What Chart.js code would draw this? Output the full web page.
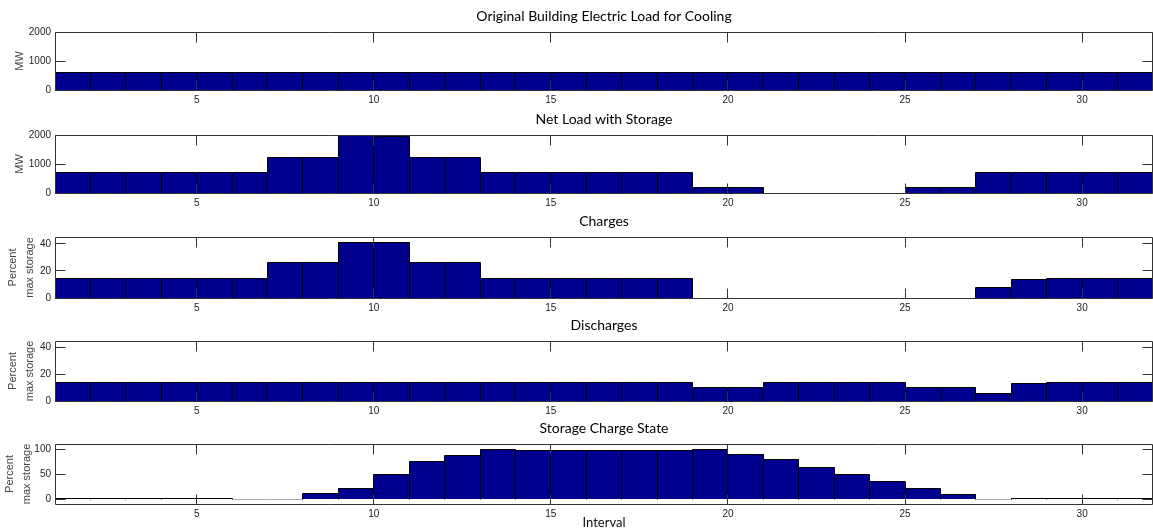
<!DOCTYPE html>
<html>
<head>
<meta charset="utf-8">
<script src="https://cdn.jsdelivr.net/npm/chart.js@4.4.0/dist/chart.umd.min.js"></script>
<style>
  html, body { margin: 0; padding: 0; background: #fff; }
  #wrap { position: relative; width: 1153px; height: 531px; overflow: hidden; }
  #wrap canvas { position: absolute; left: 0; }
</style>
</head>
<body>
<div id="wrap"></div>
<script>
// interval index of each bar (bar k spans k..k+1)
const intervals = [1, 2, 3, 4, 5, 6, 7, 8, 9, 10, 11, 12, 13, 14, 15, 16,
  17, 18, 19, 20, 21, 22, 23, 24, 25, 26, 27, 28, 29, 30, 31];

const originalLoad = [610, 610, 610, 610, 610, 610, 610, 610, 610, 610, 610,
  610, 610, 610, 610, 610, 610, 610, 610, 610, 610, 610, 610, 610, 610, 610,
  610, 610, 610, 610, 610];
const netLoad = [700, 700, 700, 700, 700, 700, 1220, 1220, 2000, 1960, 1220,
  1220, 700, 700, 700, 700, 700, 700, 190, 190, 0, 0, 0, 0, 190, 190, 700,
  700, 700, 700, 700];
const charges = [14.4, 14.4, 14.4, 14.4, 14.4, 14.4, 25.9, 25.9, 41.3, 41.3,
  25.9, 25.9, 14.4, 14.4, 14.4, 14.4, 14.4, 14.4, 0, 0, 0, 0, 0, 0, 0, 0,
  7.5, 13.6, 14.3, 14.3, 14.3];
const discharges = [13.7, 13.7, 13.7, 13.7, 13.7, 13.7, 13.7, 13.7, 13.7, 13.7,
  13.7, 13.7, 13.7, 13.7, 13.7, 13.7, 13.7, 13.7, 9.8, 9.8, 13.7, 13.7, 13.7,
  13.7, 9.8, 9.8, 6, 13.2, 13.8, 13.8, 13.8];
const chargeState = [2, 2, 2, 2, 2, 0, 0, 12, 22, 49, 75, 87, 99, 97, 97, 97,
  97, 97, 99, 89, 79, 63, 49, 35, 21, 10, 0, 2, 2, 2, 2];

const xTicks = [5, 10, 15, 20, 25, 30];
const loadTicks = [0, 1000, 2000];
const pctTicks = [0, 20, 40];
const stateTicks = [0, 50, 100];

const tickFont = { family: '"Liberation Sans", Arial, sans-serif', size: 10 };
const labelFont = { family: '"Liberation Sans", Arial, sans-serif', size: 11, lineHeight: 1.5 };
const titleFont = { family: 'Lato, "Open Sans", sans-serif', size: 14, weight: 'normal', lineHeight: 1 };
const boxColor = '#333';

const panels = [
  { title: 'Original Building Electric Load for Cooling', values: originalLoad,
    min: 0, max: 2000, yTicks: loadTicks, yTitle: ['MW'], yPad: 12, top: 32, h: 58, xh: 16 },
  { title: 'Net Load with Storage', values: netLoad,
    min: 0, max: 2000, yTicks: loadTicks, yTitle: ['MW'], yPad: 12, top: 135, h: 58, xh: 16 },
  { title: 'Charges', values: charges,
    min: 0, max: 45, yTicks: pctTicks, yTitle: ['Percent', 'max storage'], yPad: 5, top: 237, h: 61, xh: 16 },
  { title: 'Discharges', values: discharges,
    min: 0, max: 45, yTicks: pctTicks, yTitle: ['Percent', 'max storage'], yPad: 5, top: 341, h: 60, xh: 16 },
  { title: 'Storage Charge State', values: chargeState,
    min: -10, max: 110, yTicks: stateTicks, yTitle: ['Percent', 'max storage'], yPad: 2, top: 444, h: 60, xh: 27,
    xTitle: 'Interval' }
];

const TITLE_H = 27;
const px = v => Math.floor(v) + 0.5;

// crisp black outlines around the bars, one line per shared edge
const barEdges = {
  id: 'barEdges',
  afterDatasetsDraw(chart) {
    const { ctx } = chart;
    const bars = chart.getDatasetMeta(0).data;
    ctx.save();
    ctx.lineWidth = 1;
    bars.forEach((bar, i) => {
      const l = px(bar.x - bar.width / 2), r = px(bar.x + bar.width / 2);
      const flat = Math.abs(bar.base - bar.y) < 0.01;
      ctx.strokeStyle = flat ? '#aaa' : '#000';
      ctx.beginPath();
      ctx.moveTo(l, px(bar.y));
      ctx.lineTo(r, px(bar.y));
      ctx.stroke();
      ctx.strokeStyle = '#000';
      const prevY = i > 0 ? bars[i - 1].y : bar.y;
      const hi = Math.min(bar.y, prevY);
      if (Math.abs(bar.base - hi) >= 0.01) {
        ctx.beginPath();
        ctx.moveTo(l, px(bar.base));
        ctx.lineTo(l, px(hi));
        ctx.stroke();
      }
    });
    ctx.restore();
  }
};

// axes box with inward tick marks, drawn over the bars
const axesBox = {
  id: 'axesBox',
  afterDraw(chart) {
    const { ctx, chartArea: a, scales: { x, y } } = chart;
    const l = Math.round(a.left) + 0.5, r = Math.round(a.right) - 0.5;
    const t = Math.round(a.top) + 0.5, b = Math.round(a.bottom) + 0.5;
    ctx.save();
    ctx.strokeStyle = boxColor;
    ctx.lineWidth = 1;
    ctx.beginPath();
    ctx.rect(l, t, r - l, b - t);
    xTicks.forEach(v => {
      const xp = px(x.getPixelForValue(v));
      ctx.moveTo(xp, b); ctx.lineTo(xp, b - 10);
      ctx.moveTo(xp, t); ctx.lineTo(xp, t + 10);
    });
    y.ticks.forEach(tk => {
      const yp = px(y.getPixelForValue(tk.value));
      ctx.moveTo(l, yp); ctx.lineTo(l + 10, yp);
      ctx.moveTo(r, yp); ctx.lineTo(r - 10, yp);
    });
    ctx.stroke();
    ctx.restore();
  }
};

const wrap = document.getElementById('wrap');

panels.forEach(p => {
  const canvas = document.createElement('canvas');
  const height = TITLE_H + p.h + p.xh;
  canvas.width = 1153;
  canvas.height = height;
  canvas.style.top = (p.top - TITLE_H) + 'px';
  canvas.style.width = '1153px';
  canvas.style.height = height + 'px';
  wrap.appendChild(canvas);

  new Chart(canvas, {
    type: 'bar',
    data: {
      datasets: [{
        data: intervals.map((k, i) => ({ x: k + 0.5, y: p.values[i] })),
        backgroundColor: '#00008F',
        borderWidth: 0,
        inflateAmount: 0,
        barPercentage: 1,
        categoryPercentage: 1
      }]
    },
    options: {
      responsive: false,
      animation: false,
      devicePixelRatio: 1,
      layout: { padding: 0 },
      plugins: {
        legend: { display: false },
        tooltip: { enabled: false },
        title: {
          display: true,
          fullSize: false,
          text: p.title,
          color: '#000',
          font: titleFont,
          padding: { top: 4, bottom: 9 }
        }
      },
      scales: {
        x: {
          type: 'linear',
          min: 1,
          max: 32,
          offset: false,
          grid: { display: false, drawTicks: false },
          border: { display: false },
          afterBuildTicks: s => { s.ticks = xTicks.map(v => ({ value: v })); },
          afterFit: s => { s.height = p.xh; },
          ticks: { font: tickFont, color: '#222', padding: 4, maxRotation: 0, callback: v => String(v) },
          title: {
            display: !!p.xTitle,
            text: p.xTitle || '',
            color: '#111',
            font: { family: 'Lato, "Open Sans", sans-serif', size: 13 },
            padding: { top: 0, bottom: 0 }
          }
        },
        y: {
          min: p.min,
          max: p.max,
          grid: { display: false, drawTicks: false },
          border: { display: false },
          afterBuildTicks: s => { s.ticks = p.yTicks.map(v => ({ value: v })); },
          afterFit: s => { s.width = 55; },
          ticks: { font: tickFont, color: '#222', padding: 4, callback: v => String(v) },
          title: {
            display: true,
            text: p.yTitle,
            color: '#444',
            font: labelFont,
            padding: { top: p.yPad, bottom: 0 }
          }
        }
      }
    },
    plugins: [barEdges, axesBox]
  });
});
</script>
</body>
</html>
